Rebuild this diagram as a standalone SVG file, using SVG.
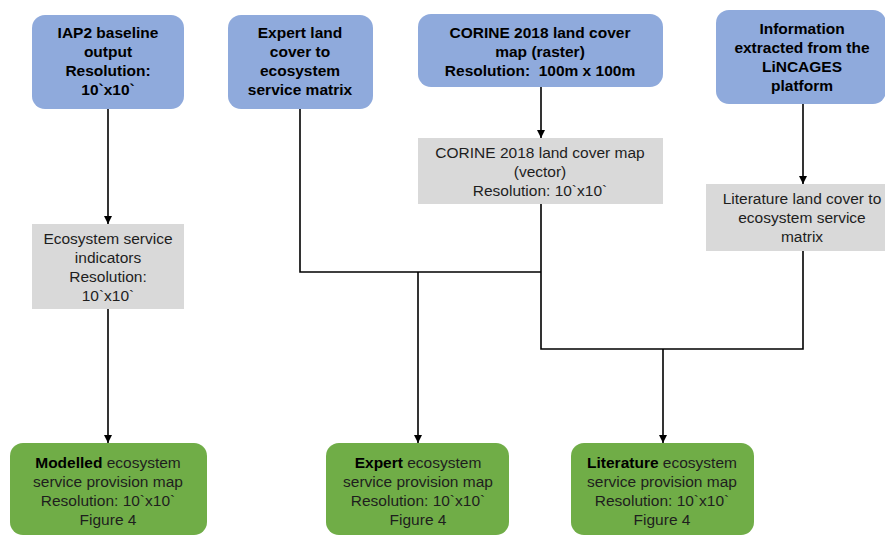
<svg xmlns="http://www.w3.org/2000/svg" width="885" height="536" viewBox="0 0 885 536">
  <defs>
    <marker id="arrow" viewBox="0 0 8 8" refX="8" refY="4" markerWidth="8" markerHeight="8" markerUnits="userSpaceOnUse" orient="auto">
      <path d="M0,0 L8,4 L0,8 Z" fill="#000"/>
    </marker>
    <style>
      .src { fill: #8faadc; }
      .mid { fill: #d9d9d9; }
      .out { fill: #70ad47; }
      text { font-family: "Liberation Sans", Arial, sans-serif; font-size: 15.5px; text-anchor: middle; }
      .b { font-weight: bold; fill: #000; }
      .n { fill: #1e1e1e; }
      .wire { fill: none; stroke: #000; stroke-width: 1.6; }
    </style>
  </defs>

  <rect width="885" height="536" fill="#fff"/>

  <!-- input sources -->
  <g id="iap2">
    <rect class="src" x="32" y="15" width="152" height="94" rx="13"/>
    <text class="b"><tspan x="108" y="38">IAP2 baseline</tspan><tspan x="108" y="57">output</tspan><tspan x="108" y="76">Resolution:</tspan><tspan x="108" y="95">10`x10`</tspan></text>
  </g>
  <g id="expert-matrix">
    <rect class="src" x="228" y="15" width="145" height="94" rx="13"/>
    <text class="b"><tspan x="300" y="38">Expert land</tspan><tspan x="300" y="57">cover to</tspan><tspan x="300" y="76">ecosystem</tspan><tspan x="300" y="95">service matrix</tspan></text>
  </g>
  <g id="corine-raster">
    <rect class="src" x="418" y="14" width="245" height="73" rx="13"/>
    <text class="b" xml:space="preserve"><tspan x="540" y="38">CORINE 2018 land cover</tspan><tspan x="540" y="57">map (raster)</tspan><tspan x="540" y="76">Resolution:  100m x 100m</tspan></text>
  </g>
  <g id="lincages">
    <rect class="src" x="716" y="10" width="170" height="94" rx="13"/>
    <text class="b"><tspan x="802" y="34">Information</tspan><tspan x="802" y="53">extracted from the</tspan><tspan x="802" y="72">LiNCAGES</tspan><tspan x="802" y="91">platform</tspan></text>
  </g>

  <!-- intermediate products -->
  <g id="es-indicators">
    <rect class="mid" x="32" y="224" width="152" height="85"/>
    <text class="n"><tspan x="108" y="244">Ecosystem service</tspan><tspan x="108" y="263">indicators</tspan><tspan x="108" y="282">Resolution:</tspan><tspan x="108" y="301">10`x10`</tspan></text>
  </g>
  <g id="corine-vector">
    <rect class="mid" x="418" y="138" width="245" height="66"/>
    <text class="n"><tspan x="540" y="158">CORINE 2018 land cover map</tspan><tspan x="540" y="177">(vector)</tspan><tspan x="540" y="196">Resolution: 10`x10`</tspan></text>
  </g>
  <g id="literature-matrix">
    <rect class="mid" x="706" y="184" width="180" height="67"/>
    <text class="n"><tspan x="802" y="204">Literature land cover to</tspan><tspan x="802" y="223">ecosystem service</tspan><tspan x="802" y="242">matrix</tspan></text>
  </g>

  <!-- output maps -->
  <g id="modelled-map">
    <rect class="out" x="10" y="443" width="197" height="92" rx="13"/>
    <text class="n"><tspan x="108" y="468"><tspan class="b">Modelled</tspan> ecosystem</tspan><tspan x="108" y="487">service provision map</tspan><tspan x="108" y="506">Resolution: 10`x10`</tspan><tspan x="108" y="525">Figure 4</tspan></text>
  </g>
  <g id="expert-map">
    <rect class="out" x="326" y="443" width="183" height="92" rx="13"/>
    <text class="n"><tspan x="418" y="468"><tspan class="b">Expert</tspan> ecosystem</tspan><tspan x="418" y="487">service provision map</tspan><tspan x="418" y="506">Resolution: 10`x10`</tspan><tspan x="418" y="525">Figure 4</tspan></text>
  </g>
  <g id="literature-map">
    <rect class="out" x="571" y="443" width="183" height="92" rx="13"/>
    <text class="n"><tspan x="662" y="468"><tspan class="b">Literature</tspan> ecosystem</tspan><tspan x="662" y="487">service provision map</tspan><tspan x="662" y="506">Resolution: 10`x10`</tspan><tspan x="662" y="525">Figure 4</tspan></text>
  </g>

  <!-- connectors -->
  <g id="connectors">
    <path class="wire" d="M108,109 V224" marker-end="url(#arrow)"/>
    <path class="wire" d="M108,309 V443" marker-end="url(#arrow)"/>
    <path class="wire" d="M541,87 V138" marker-end="url(#arrow)"/>
    <path class="wire" d="M803,104 V184" marker-end="url(#arrow)"/>
    <path class="wire" d="M300,109 V272 H541"/>
    <path class="wire" d="M541,204 V349 H803 V251"/>
    <path class="wire" d="M418,272 V443" marker-end="url(#arrow)"/>
    <path class="wire" d="M663,349 V443" marker-end="url(#arrow)"/>
  </g>
</svg>
